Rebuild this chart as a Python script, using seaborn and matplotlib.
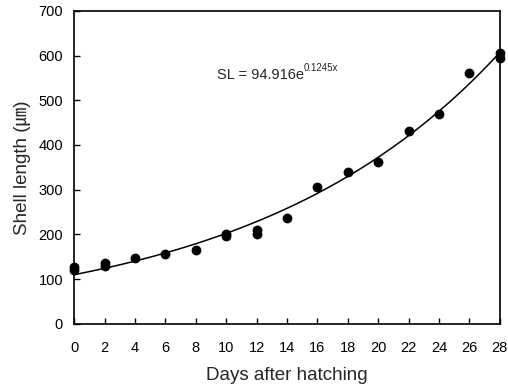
import numpy as np
import pandas as pd
import matplotlib.pyplot as plt
import seaborn as sns

days = [0, 0, 2, 2, 4, 6, 8, 10, 10, 12, 12, 14, 16, 18, 20, 22, 24, 26, 28, 28]
shell_len = [120, 128, 130, 135, 147, 157, 166, 197, 200, 201, 210, 236, 305,
             340, 362, 432, 470, 560, 595, 605]

x_ticks = list(range(0, 29, 2))
y_ticks = list(range(0, 701, 100))

sns.set_theme(style="ticks")
plt.rcParams["font.family"] = ["Liberation Sans", "Noto Sans CJK KR", "DejaVu Sans"]

df = pd.DataFrame({"day": days, "sl": shell_len})

# exponential trend fitted to the points (log-linear, weighted ~ nonlinear LS)
b, log_a = np.polyfit(df.day, np.log(df.sl), 1, w=np.array(df.sl, float))
fit = pd.DataFrame({"day": np.linspace(0, 28, 200)})
fit["sl"] = np.exp(log_a) * np.exp(b * fit.day)

fig = plt.figure(figsize=(5.08, 3.86), dpi=100)
ax = fig.add_axes([0.146, 0.161, 0.838, 0.811])

sns.lineplot(data=fit, x="day", y="sl", color="black", lw=1.1, ax=ax)
sns.scatterplot(data=df, x="day", y="sl", color="black", s=50, marker="o",
                edgecolor="black", linewidth=0, ax=ax, zorder=3, clip_on=False)

ax.set_xlim(0, 28)
ax.set_ylim(0, 700)
ax.set_xticks(x_ticks)
ax.set_yticks(y_ticks)
ax.tick_params(direction="in", length=4, width=1, colors="black",
               labelsize=10.5)
ax.tick_params(axis="x", pad=12)
ax.tick_params(axis="y", pad=8)
for s in ax.spines.values():
    s.set_visible(True)
    s.set_color("black")
    s.set_linewidth(1.2)

ax.set_xlabel("Days after hatching", fontsize=13.5, labelpad=9)
ax.set_ylabel("Shell length (㎛)", fontsize=13.5, labelpad=5)

ax.text(9.4, 557, "SL = 94.916e", fontsize=10.5, va="center", ha="left")
ax.annotate("0.1245x", xy=(9.4, 557), xytext=(62, 1.5), textcoords="offset points",
            fontsize=7, va="bottom", ha="left")

fig.savefig("out.png", dpi=100)
